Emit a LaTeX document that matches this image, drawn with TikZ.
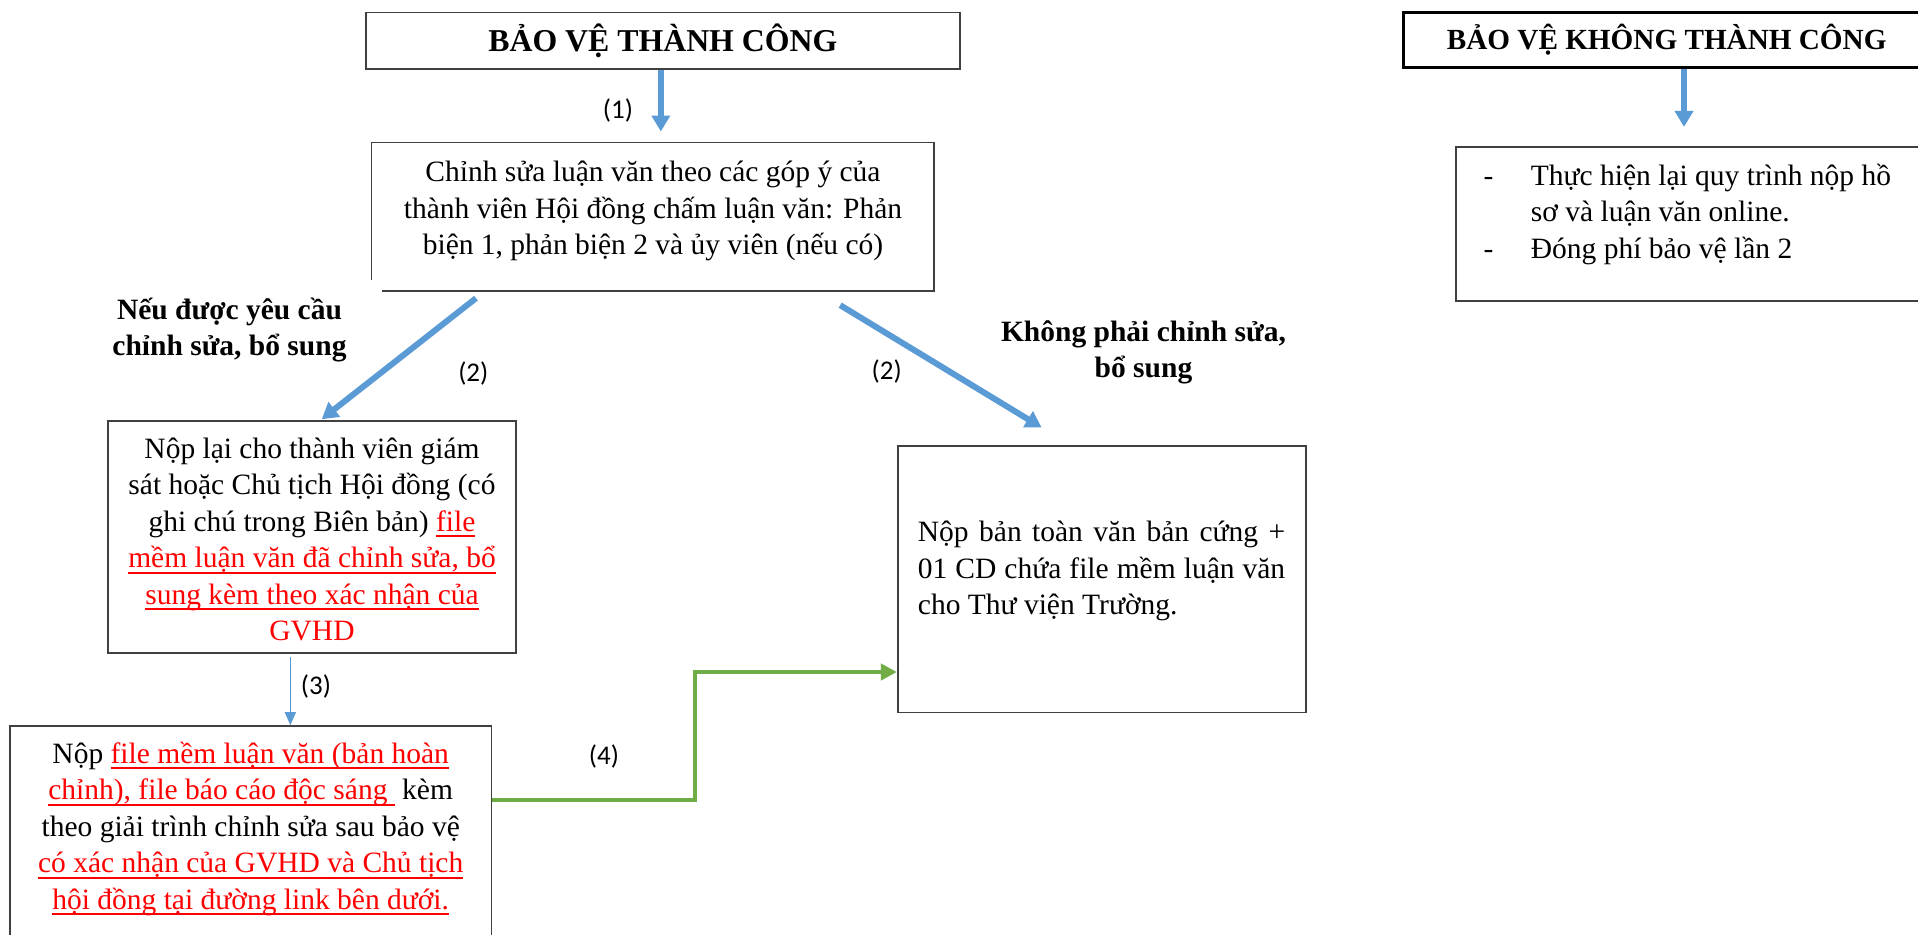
\documentclass[tikz,border=0pt]{standalone}
\usepackage{fontspec}
\setmainfont{Liberation Serif}
\newfontfamily\calibrifont{Carlito}
\usetikzlibrary{arrows.meta,calc}
\definecolor{arrblue}{HTML}{5B9BD5}
\definecolor{arrgreen}{HTML}{70AD47}
\definecolor{boxgray}{HTML}{404040}
\newsavebox{\myulbox}
\newcommand{\ru}[1]{\begingroup\color{red}\sbox{\myulbox}{#1}\rlap{\rule[-6pt]{\wd\myulbox}{2pt}}\usebox{\myulbox}\endgroup}
\tikzset{
  boxline/.style={draw=boxgray, line width=1.6pt, line join=miter},
  box/.style={boxline, rectangle, inner sep=0pt},
  body/.style={font=\fontsize{29.5}{36.5}\selectfont, align=center, inner sep=0pt, anchor=base},
  boldlbl/.style={font=\fontsize{29.5}{36}\selectfont\bfseries, align=center, inner sep=0pt, anchor=base},
  headtxt/.style={font=\fontsize{31.8}{38}\selectfont\bfseries},
  numlbl/.style={font=\calibrifont\fontsize{27}{32}\selectfont, inner sep=0pt},
  barrow/.style={draw=arrblue, line width=6pt, -{Triangle[width=18pt,length=16pt]}},
  tarrow/.style={draw=arrblue, line width=1.2pt, -{Triangle[width=11pt,length=13pt]}},
  garrow/.style={draw=arrgreen, line width=4.5pt, line join=miter, -{Triangle[width=16pt,length=16pt]}}
}
\begin{document}
\begin{tikzpicture}[x=1pt,y=-1pt]
\useasboundingbox (0,0) rectangle (1918,934);
\fill[white] (0,0) rectangle (1918,934);

% boxes
\node[box, headtxt, minimum width=594.3pt, minimum height=56.3pt] (b1) at (662.85,40.85) {BẢO VỆ THÀNH CÔNG};
\node[rectangle, inner sep=0pt, minimum width=562.3pt, minimum height=148pt] (b2) at (652.85,216.7) {};
\draw[boxline] ([yshift=10.7pt]b2.south west) -- (b2.north west) -- (b2.north east) -- (b2.south east) -- ([xshift=10pt]b2.south west);
\node[box, minimum width=408.3pt, minimum height=231.7pt] (b3) at (311.85,536.85) {};
\node[box, minimum width=481.5pt, minimum height=234pt] (b4) at (250.75,843) {};
\node[box, minimum width=408.3pt, minimum height=266.6pt] (b5) at (1101.85,579) {};
\node[rectangle, draw=black, line width=3pt, inner sep=0pt, minimum width=526.7pt, minimum height=55.4pt,
      font=\fontsize{29.2}{35}\selectfont\bfseries] (bk) at (1666.65,40) {BẢO VỆ KHÔNG THÀNH CÔNG};
\node[box, minimum width=474.3pt, minimum height=154pt] (bt) at (1692.85,223.7) {};

% texts (anchor=base is the baseline of the last line)
\node[body] (t2) at (653,254.5) {Chỉnh sửa luận văn theo các góp ý của\\thành viên Hội đồng chấm luận văn: Phản\\biện 1, phản biện 2 và ủy viên (nếu có)};
\node[body] (t3) at (312,640.8) {Nộp lại cho thành viên giám\\sát hoặc Chủ tịch Hội đồng (có\\ghi chú trong Biên bản) \ru{file}\\\ru{mềm luận văn đã chỉnh sửa, bổ}\\\ru{sung kèm theo xác nhận của}\\\textcolor{red}{GVHD}};
\node[body] (t4) at (250.7,909.3) {Nộp \ru{file mềm luận văn (bản hoàn}\\\ru{chỉnh), file báo cáo độc sáng } kèm\\theo giải trình chỉnh sửa sau bảo vệ\\\ru{có xác nhận của GVHD và Chủ tịch}\\\ru{hội đồng tại đường link bên dưới.}};
\node[body, align=justify, text width=367.3pt, anchor=base west] (t5) at (917.7,541.7) {Nộp bản toàn văn bản cứng +\linebreak 01 CD chứa file mềm luận văn\linebreak cho Thư viện Trường.};
\node[body, align=left, anchor=base west] (tt) at (1483.3,258) {\makebox[47.4pt][l]{-}Thực hiện lại quy trình nộp hồ\\\hspace*{47.4pt}sơ và luận văn online.\\\makebox[47.4pt][l]{-}Đóng phí bảo vệ lần 2};
\node[boldlbl] (lyes) at (229.5,355.3) {Nếu được yêu cầu\\chỉnh sửa, bổ sung};
\node[boldlbl] (lno) at (1143.5,377.7) {Không phải chỉnh sửa,\\bổ sung};

% number labels
\node[numlbl] (n1) at (618,110) {(1)};
\node[numlbl] (n2a) at (473.3,373.3) {(2)};
\node[numlbl] (n2b) at (886.7,371.7) {(2)};
\node[numlbl] (n3) at (316,686.7) {(3)};
\node[numlbl] (n4) at (604,756.7) {(4)};

% connectors
\coordinate (a1s) at ([xshift=-2pt]b1.south);
\draw[barrow, shorten >=11pt] (a1s) -- (a1s |- b2.north);
\draw[barrow] ($(b2.south west)+(104.5,7.3)$) -- ($(b3.north)+(9.9,-1)$);
\draw[barrow] ($(b2.south east)+(-94,14.3)$) -- ($(b5.north)+(-60.2,-17.4)$);
\coordinate (a3s) at ([xshift=-21.5pt,yshift=-3.5pt]b3.south);
\draw[tarrow] (a3s) -- (a3s |- b4.north);
\coordinate (g0) at ([yshift=43pt]b4.east);
\coordinate (g1) at ([yshift=-93pt]b5.west);
\draw[garrow] (g0) -- ++(202.5,0) |- (g1);
\coordinate (ak) at ([xshift=17.35pt]bk.south);
\draw[barrow, shorten >=19pt] (ak) -- (ak |- bt.north);
\end{tikzpicture}
\end{document}
